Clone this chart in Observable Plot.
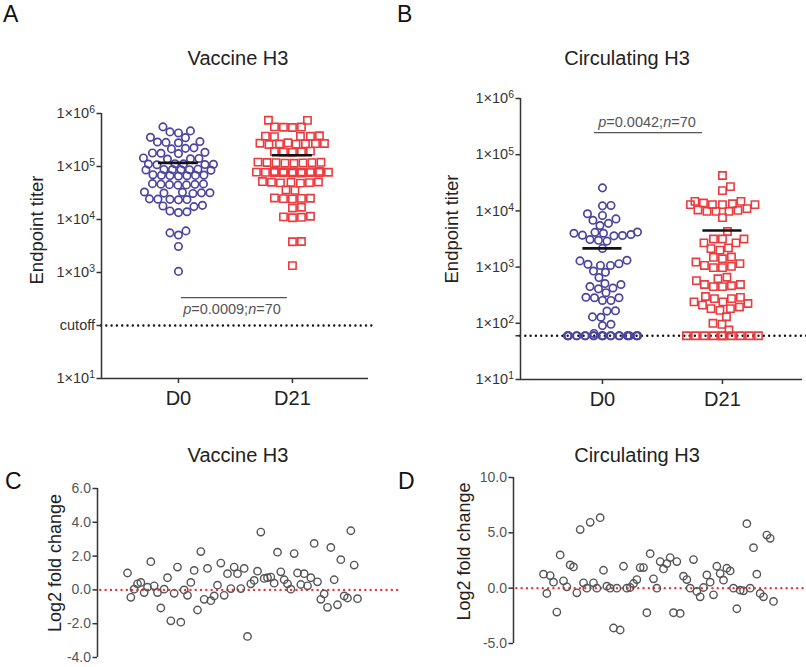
<!DOCTYPE html>
<html>
<head>
<meta charset="utf-8">
<script src="https://cdn.jsdelivr.net/npm/d3@7"></script>
<script src="https://cdn.jsdelivr.net/npm/@observablehq/plot@0.6"></script>
<style>
  body { margin: 0; background: #fff; font-family: "Liberation Sans", Arial, sans-serif; }
  #fig { position: relative; width: 806px; height: 667px; overflow: hidden; background: #fff; }
  #fig svg { position: absolute; overflow: visible; }
  .t { position: absolute; white-space: nowrap; transform: translate(-50%, -50%); color: #222; }
  .title { font-size: 20px; }
  .letter { position: absolute; font-size: 23px; color: #111; line-height: 1; }
  .pv { font-size: 14.5px; color: #555; }
</style>
</head>
<body>
<div id="fig"></div>
<script>
// ---------------- data ----------------
const groups = ["D0", "D21"];

// Panel A – Vaccine H3 endpoint titers
const vaccineD0 = [
  560000,
  450000, 430000, 470000,
  355000, 350000,
  290000, 285000, 295000, 280000,
  220000, 215000, 225000,
  180000, 175000, 185000, 178000,
  140000, 142000, 138000, 145000,
  108000, 110000, 112000, 109000, 111000, 113000,
  87000, 86000, 88000, 85000, 89000, 87500, 86500,
  68000, 67000, 69000, 66000, 70000, 67500, 68500,
  46000, 45000, 47000, 45500, 46500, 44500, 47500,
  32000, 31500, 32500, 31000, 33000, 31800,
  24000, 23500, 24500, 23800, 24200,
  18000, 18500, 17500,
  14000, 14500, 13500,
  6100, 5100, 5600,
  3100,
  1050
];
const vaccineD21 = [
  740000, 745000,
  550000, 545000, 555000, 560000,
  372000, 370000, 375000, 365000, 380000,
  265000, 270000, 275000, 268000, 272000, 260000, 280000, 266000,
  190000, 192000, 188000, 195000, 185000,
  115000, 118000, 120000, 117000, 119000, 116000, 121000, 118500,
  76000, 77000, 78000, 79000, 80000, 75000, 81000, 77500, 78500, 76500, 79500, 77200, 78800, 80500, 75500,
  49000, 50000, 51000, 50500, 49500, 52000, 48500,
  35500, 36000,
  25000, 24500, 25500, 24800, 25200,
  16500, 17000,
  11200, 11000, 11500, 10800,
  3800, 3850,
  1350
];

// Panel B – Circulating H3 endpoint titers
const circulatingD0 = [
  25700,
  12300, 12500,
  8300, 6800, 6000, 7200, 8900, 5500,
  4200, 4000, 3700, 3600, 3650, 3800, 4000, 4150,
  3000, 2900, 3100,
  2150,
  1150, 1070, 1320, 1290, 1070, 1120,
  810, 850, 650,
  510, 450, 410, 425, 490,
  350,
  285, 255, 255, 285, 290,
  167, 165,
  128, 130,
  96, 91, 66,
  60, 60, 60, 60, 60, 60, 60, 60, 60, 60, 60,
  60, 60, 60, 60, 60, 60, 60, 60, 60, 60, 60
];
const circulatingD21 = [
  42700, 27000, 23000,
  14800, 12900, 12900, 12900, 12900, 13400, 13800, 14800,
  11000, 9800, 9800, 10400, 9800, 10200,
  7600, 4300,
  3160, 2700, 2700, 3160, 3160,
  2200, 2000, 2130,
  1490, 1510, 1410,
  1230, 1070, 980, 980, 1030, 1150,
  620, 490, 450, 450, 465, 490, 575, 660,
  300, 275, 275, 290,
  225, 210, 182, 170, 182, 195, 240, 240,
  131, 100, 96, 76,
  60, 60, 60, 60, 60, 60, 60, 60, 60, 60
];

const titerTicks = [1e1, 1e2, 1e3, 1e4, 1e5, 1e6];
const cutoffA = 100;
const cutoffB = 60;
const pTextA = ["p", "=0.0009;", "n", "=70"];
const pTextB = ["p", "=0.0042;", "n", "=70"];

// Panels C / D – log2 fold change per subject
const vaccineLog2FC = [
  1.0, -0.44, 0.04, 0.36, 0.44, -0.16, 0.16, 1.67, 0.24, -0.16,
  -1.07, 0.04, 0.72, -1.83, -0.2, 1.35, -1.91, 0, -0.32, 0.44,
  1.15, -1.19, 2.27, -0.56, 1.27, -0.64, -0.36, 0.28, 1.59, -0.32,
  0.96, 0.08, 1.35, 0.96, 0.08, 1.27, -2.75, 0.36, 0.56, 1.11,
  3.42, 0.68, 0.72, 0.76, 0.4, 2.23, 1.07, 0.6, 0.36, 0.04,
  2.15, 1.0, 0.32, 0.96, 0.24, 0.72, 2.75, 0.48, -0.56, -0.24,
  -1.03, 2.51, 0.6, -0.88, 1.79, -0.36, -0.48, 3.5, 1.47, -0.52
];
const circulatingLog2FC = [
  1.26, -0.48, 1.14, 0.54, -2.16, 3.0, 0.66, 0.12, 2.1, 1.92,
  -0.42, 5.29, 0.48, 0, 5.95, 0.48, 0, 6.37, 1.62, 0.18,
  0, -3.6, 0, -3.78, 1.98, 0, 0.06, 0.42, 0.78, 1.86,
  1.86, -2.22, 3.12, 0.84, 0, 2.4, 1.74, 2.22, 2.76, -2.22,
  2.4, -2.28, 1.08, 0.78, 0, 2.58, -0.3, -0.78, 0.06, 1.2,
  0.54, -0.6, 1.98, 1.32, 0.72, 1.8, 1.56, 0, -1.86, -0.18,
  -0.24, 5.83, 0, 3.66, 1.26, -0.48, -0.78, 4.8, 4.5, -1.2
];
const log2TicksC = [-4, -2, 0, 2, 4, 6];
const log2TicksD = [-5, 0, 5, 10];

// ---------------- styling ----------------
const FONT = "Liberation Sans, Arial, sans-serif";
const BLUE = "#4b44a0";
const RED = "#ea3b3f";
const AXIS = "#333";
const DOTRED = "#e8333a";

const fig = document.getElementById("fig");
function place(svg, left, top) { svg.style.left = left + "px"; svg.style.top = top + "px"; fig.appendChild(svg); }
function addText(cls, html, x, y, extra) {
  const d = document.createElement("div");
  d.className = "t " + cls; d.innerHTML = html;
  d.style.left = x + "px"; d.style.top = y + "px";
  if (extra) Object.assign(d.style, extra);
  fig.appendChild(d);
}
function addLetter(ch, x, y) {
  const d = document.createElement("div");
  d.className = "letter"; d.textContent = ch;
  d.style.left = x + "px"; d.style.top = y + "px";
  fig.appendChild(d);
}
const sci = v => "1×10^" + Math.round(Math.log10(v));

// turn "1×10^6" tick labels into real superscripts
function superscripts(svg) {
  svg.querySelectorAll("text").forEach(t => {
    const m = /^1×10\^(\d+)$/.exec(t.textContent);
    if (!m) return;
    t.textContent = "1×10";
    const ts = document.createElementNS("http://www.w3.org/2000/svg", "tspan");
    ts.setAttribute("dy", "-0.45em");
    ts.setAttribute("font-size", "72%");
    ts.textContent = m[1];
    t.appendChild(ts);
  });
  return svg;
}

// GraphPad-like scatter layout: each point is placed as close to its group's centre
// as possible, avoiding overlaps, within a maximum row half-width (cap).
function swarm(values, gi, o) {
  const pts = values.map(v => ({ v, yp: Math.log10(v) * o.pxPerDecade }));
  const order = pts.slice().sort((a, b) => a.yp - b.yp);
  const placed = [];
  let flip = 1;
  for (const p of order) {
    let best = 0, bestPen = Infinity, bestAbs = Infinity;
    for (let x = -o.cap; x <= o.cap + 1e-9; x += 0.5) {
      let pen = 0;
      for (const q of placed) {
        const dy = p.yp - q.yp;
        if (Math.abs(dy) >= o.d) continue;
        const dist = Math.hypot(x - q.x, dy);
        if (dist < o.d) pen += o.d - dist;
      }
      const ax = Math.abs(x);
      if (pen < bestPen - 1e-6 || (Math.abs(pen - bestPen) <= 1e-6 && ax < bestAbs - 1e-6)) {
        best = x; bestPen = pen; bestAbs = ax;
      } else if (Math.abs(pen - bestPen) <= 1e-6 && Math.abs(ax - bestAbs) <= 1e-6 && Math.sign(x) === flip) {
        best = x;
      }
    }
    p.x = best; flip = -flip; placed.push(p);
  }
  return pts.map(p => ({ group: groups[gi], value: p.v, x: gi + p.x / o.pxPerUnit }));
}

function titerPanel(cfg) {
  const { w, h, ml, mr, mt, mb, xdom, d0, d21, cutoff, ticks, tickFmt, pLine, halfMean, dotEnd } = cfg;
  const pxPerDecade = (h - mt - mb) / 5;
  const pxPerUnit = (w - ml - mr) / (xdom[1] - xdom[0]);
  const s0 = swarm(d0, 0, { pxPerDecade, pxPerUnit, d: 8.4, cap: 35 });
  const s1 = swarm(d21, 1, { pxPerDecade, pxPerUnit, d: 8.8, cap: 36 });
  const means = [d0, d21].map((arr, gi) => ({ gi, mean: d3.mean(arr) }));
  return superscripts(Plot.plot({
    width: w, height: h, marginLeft: ml, marginRight: mr, marginTop: mt, marginBottom: mb,
    style: { fontFamily: FONT, color: AXIS, background: "transparent", overflow: "visible" },
    x: { type: "linear", domain: xdom, axis: null },
    y: { type: "log", domain: [10, 1e6], axis: null },
    marks: [
      Plot.ruleY([cutoff], { x1: xdom[0], x2: dotEnd, stroke: "#111", strokeWidth: 2.4, strokeDasharray: "0 5.3", strokeLinecap: "round" }),
      Plot.ruleX([xdom[0]], { y1: 10, y2: 1e6, stroke: AXIS, strokeWidth: 1.5 }),
      Plot.ruleY([10], { x1: xdom[0], x2: xdom[1], stroke: AXIS, strokeWidth: 1.5 }),
      Plot.axisY({ ticks, tickFormat: tickFmt, tickSize: 4.5, tickPadding: 2, fontSize: 14.5, label: null, stroke: AXIS, strokeWidth: 1.5, fill: AXIS }),
      Plot.axisX({ ticks: [0, 1], tickFormat: i => groups[i], tickSize: 5, tickPadding: 7, fontSize: 20, label: null, stroke: AXIS, strokeWidth: 1.5, fill: "#222" }),
      Plot.ruleY([pLine.y], { x1: pLine.x1, x2: pLine.x2, stroke: "#555", strokeWidth: 1.3 }),
      Plot.dot(s0, { x: "x", y: "value", r: 3.7, stroke: BLUE, strokeWidth: 1.7, fill: "none" }),
      Plot.dot(s1, { x: "x", y: "value", symbol: "square", r: 4.1, stroke: RED, strokeWidth: 1.6, fill: "none" }),
      Plot.ruleY(means, { y: "mean", x1: d => d.gi - halfMean, x2: d => d.gi + halfMean, stroke: "#111", strokeWidth: 2.6 }),
      Plot.text(["Endpoint titer"], { frameAnchor: "left", textAnchor: "middle", dx: cfg.labelDx, dy: cfg.labelDy, rotate: -90, fontSize: 18.5, fill: "#222" })
    ]
  }));
}

function foldPanel(cfg) {
  const { w, h, ml, mr, mt, mb, xdom, ydom, values, ticks } = cfg;
  return Plot.plot({
    width: w, height: h, marginLeft: ml, marginRight: mr, marginTop: mt, marginBottom: mb,
    style: { fontFamily: FONT, color: "#555", background: "transparent", overflow: "visible" },
    x: { type: "linear", domain: xdom, axis: null },
    y: { type: "linear", domain: ydom, axis: null },
    marks: [
      Plot.ruleX([xdom[0]], { y1: ydom[0], y2: ydom[1], stroke: AXIS, strokeWidth: 1.5 }),
      Plot.axisY({ ticks, tickFormat: v => v.toFixed(1), tickSize: 4.5, tickPadding: 2, fontSize: 14, label: null, stroke: AXIS, strokeWidth: 1.5, fill: "#555" }),
      Plot.ruleY([0], { x1: xdom[0] + 1, x2: xdom[1], stroke: DOTRED, strokeWidth: 2.4, strokeDasharray: "0 5.3", strokeLinecap: "round" }),
      Plot.dot(values, { x: (d, i) => i, y: d => d, r: 3.7, stroke: "#555", strokeWidth: 1.4, fill: "none" }),
      Plot.text(["Log2 fold change"], { frameAnchor: "left", textAnchor: "middle", dx: cfg.labelDx, dy: cfg.labelDy, rotate: -90, fontSize: 18, fill: "#222" })
    ]
  });
}

// Panel A
place(titerPanel({
  w: 400, h: 340, ml: 101, mr: 32, mt: 33, mb: 42, xdom: [-0.675, 1.667],
  d0: vaccineD0, d21: vaccineD21, cutoff: cutoffA,
  ticks: titerTicks, tickFmt: v => v === cutoffA ? "cutoff" : sci(v),
  pLine: { y: 337, x1: 0.026, x2: 0.956 }, halfMean: 0.175, dotEnd: 1.7,
  labelDx: -64, labelDy: -16
}), 0, 80);

// Panel B
place(titerPanel({
  w: 406, h: 360, ml: 120, mr: 4, mt: 38, mb: 41, xdom: [-0.683, 1.667],
  d0: circulatingD0, d21: circulatingD21, cutoff: cutoffB,
  ticks: [...titerTicks, cutoffB], tickFmt: v => v === cutoffB ? "cutoff" : sci(v),
  pLine: { y: 248000, x1: -0.067, x2: 0.833 }, halfMean: 0.163, dotEnd: 1.72,
  labelDx: -68, labelDy: -10
}), 400, 60);

// Panel C
place(foldPanel({
  w: 400, h: 197, ml: 97, mr: 0, mt: 18, mb: 10, xdom: [-9, 81.9], ydom: [-4, 6],
  values: vaccineLog2FC, ticks: log2TicksC, labelDx: -42, labelDy: -10
}), 0, 470);

// Panel D
place(foldPanel({
  w: 406, h: 207, ml: 113, mr: 0, mt: 17, mb: 24, xdom: [-9, 78.9], ydom: [-5, 10],
  values: circulatingLog2FC, ticks: log2TicksD, labelDx: -49, labelDy: -9
}), 400, 460);

// Titles, letters, annotations
addLetter("A", 3, 3);
addLetter("B", 397, 3);
addLetter("C", 5, 470);
addLetter("D", 398, 470);
addText("title", "Vaccine H3", 238, 58);
addText("title", "Circulating H3", 627, 58);
addText("title", "Vaccine H3", 238, 455);
addText("title", "Circulating H3", 637, 455);
const pHtml = a => `<i>${a[0]}</i>${a[1]}<i>${a[2]}</i>${a[3]}`;
addText("pv", pHtml(pTextA), 232, 309);
addText("pv", pHtml(pTextB), 647, 122);
</script>
</body>
</html>
